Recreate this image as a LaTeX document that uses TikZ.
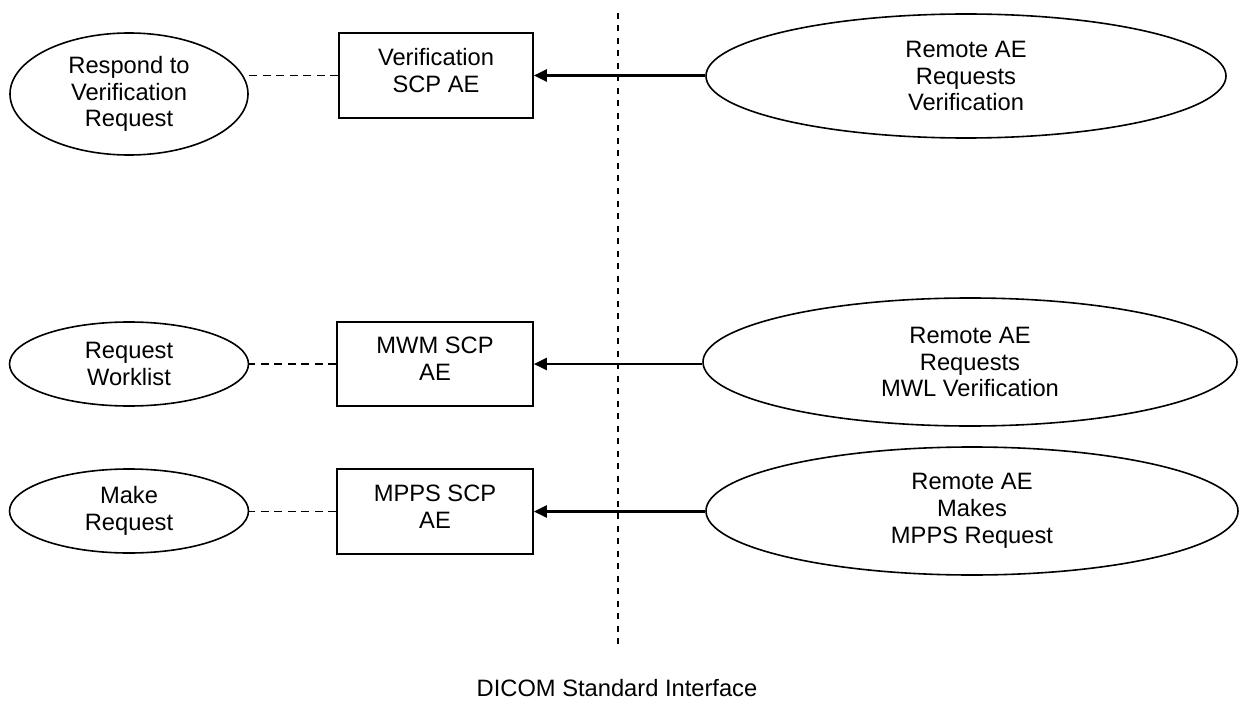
\documentclass[tikz,border=0pt]{standalone}
\usepackage{fontspec}
\setmainfont{Liberation Sans}
\usetikzlibrary{shapes.geometric,arrows.meta}
\begin{document}
\begin{tikzpicture}[x=1pt,y=-1pt,
  txt/.style={font=\fontsize{23.7}{26.7}\selectfont, align=center, inner sep=0pt},
  oval/.style={ellipse, draw, line width=1.6pt, inner sep=0pt, txt},
  box/.style={rectangle, draw, line width=1.6pt, inner sep=0pt},
  link/.style={line width=1.5pt, dash pattern=on 8pt off 5.5pt},
  divider/.style={line width=1.5pt, dash pattern=on 6pt off 6.5pt},
  arr/.style={line width=2.6pt, -{Triangle[length=13pt,width=12pt]}}]
\useasboundingbox (0,0) rectangle (1240,706);

% left ellipses
\node[oval, minimum width=238pt, minimum height=122pt] (e1) at (129,94) {Respond to\\Verification\\Request};
\node[oval, minimum width=239pt, minimum height=84pt] (e3) at (129,364) {Request\\Worklist};
\node[oval, minimum width=239pt, minimum height=84pt] (e5) at (129,511) {Make\\Request};

% boxes
\node[box, minimum width=194pt, minimum height=85pt] (b1) at (436,75.5) {};
\node[txt] (b1t) at ([yshift=5pt]b1.center) {Verification\\SCP AE};
\node[box, minimum width=196pt, minimum height=84pt] (b2) at (435,364) {};
\node[txt] (b2t) at ([yshift=5pt]b2.center) {MWM SCP\\AE};
\node[box, minimum width=196pt, minimum height=85pt] (b3) at (435,511.5) {};
\node[txt] (b3t) at ([yshift=5pt]b3.center) {MPPS SCP\\AE};

% right ellipses
\node[oval, minimum width=520pt, minimum height=124pt] (e2) at (966,76) {Remote AE\\Requests\\Verification};
\node[oval, minimum width=534pt, minimum height=128pt] (e4) at (970,362) {Remote AE\\Requests\\MWL Verification};
\node[oval, minimum width=532pt, minimum height=128pt] (e6) at (972,511) {Remote AE\\Makes\\MPPS Request};

% divider
\coordinate (vt) at (618,13);
\coordinate (vb) at (618,648);
\draw[divider] (vt) -- (vb);

% dashed links
\draw[link] (b1.west) -- (b1.west -| e1.east);
\draw[link] (b2.west) -- (b2.west -| e3.east);
\draw[link] (b3.west) -- (b3.west -| e5.east);

% arrows
\draw[arr] (b1.east -| e2.west) -- (b1.east);
\draw[arr] (b2.east -| e4.west) -- (b2.east);
\draw[arr] (b3.east -| e6.west) -- (b3.east);

% caption
\node[txt, anchor=base] (cap) at (617,696) {DICOM Standard Interface};
\end{tikzpicture}
\end{document}
